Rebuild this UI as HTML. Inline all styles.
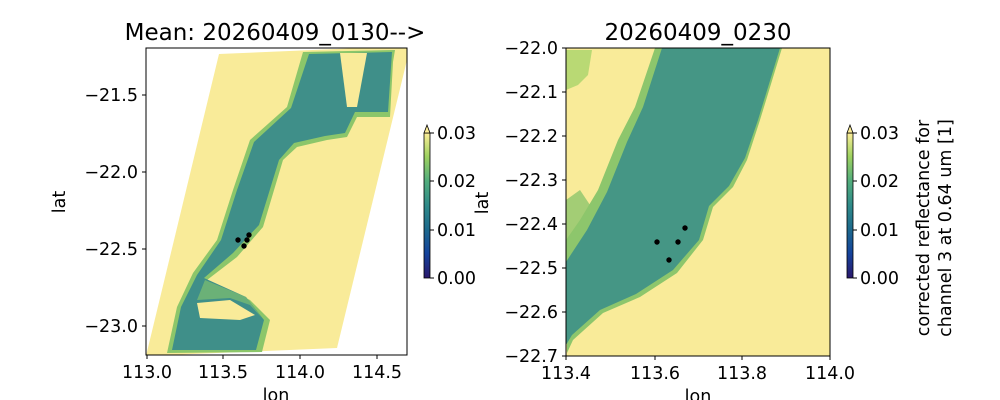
<!DOCTYPE html>
<html><head><style>body{margin:0;background:#fff}svg{display:block}text{font-family:"DejaVu Sans","Liberation Sans",sans-serif;fill:#000}</style></head>
<body>
<svg width="1000" height="400" viewBox="0 0 1000 400" xmlns="http://www.w3.org/2000/svg">
<defs>
<linearGradient id="cm" x1="0" y1="1" x2="0" y2="0">
<stop offset="0" stop-color="#2a186c"/><stop offset="0.17" stop-color="#14439c"/><stop offset="0.34" stop-color="#1d6a8c"/><stop offset="0.5" stop-color="#2f8a89"/><stop offset="0.67" stop-color="#52ad7c"/><stop offset="0.84" stop-color="#9fd260"/><stop offset="1" stop-color="#fdee99"/>
</linearGradient>
<clipPath id="c1"><rect x="146" y="48" width="261" height="307"/></clipPath>
<clipPath id="c2"><rect x="566" y="48" width="264" height="308"/></clipPath>
</defs>
<!-- left panel -->
<g clip-path="url(#c1)">
<polygon points="219,54 407,46 407,60 337,348 146,356" fill="#f9eb99"/>
<polygon points="303,52 395,50 393,62 390,117 357,117 347,137 327,140 297,147 283,160 263,227 237,257 207,280 250,300 270,320 262,352 167,353 177,307 193,273 217,240 233,190 250,140 287,107" fill="#8cc66a"/>
<polygon points="309,54 392,52 388,112 355,112 345,133 325,136 294,143 279,160 259,225 233,253 204,278 246,297 264,320 256,350 172,350 181,307 197,275 221,240 237,190 254,142 291,108" fill="#3f8f89"/>
<polygon points="340,53 367,53 357,107 347,107" fill="#f9eb99"/>
<polygon points="197,303 230,300 255,315 240,320 200,318" fill="#f9eb99"/>
<polygon points="205,280 246,297 262,318 250,305 230,298 197,300" fill="#7fbf6f" opacity="0.7"/>
</g>
<g fill="#000"><circle cx="238" cy="240" r="2.7"/><circle cx="247" cy="240" r="2.7"/><circle cx="249" cy="235" r="2.7"/><circle cx="244" cy="246" r="2.7"/></g>
<rect x="146" y="48" width="261" height="307" fill="none" stroke="#000" stroke-width="1"/>
<g stroke="#000"><line x1="147" y1="355" x2="147" y2="359"/><line x1="223" y1="355" x2="223" y2="359"/><line x1="300" y1="355" x2="300" y2="359"/><line x1="377" y1="355" x2="377" y2="359"/>
<line x1="142" y1="95" x2="146" y2="95"/><line x1="142" y1="172" x2="146" y2="172"/><line x1="142" y1="249" x2="146" y2="249"/><line x1="142" y1="326" x2="146" y2="326"/></g>
<g font-size="17.5" text-anchor="middle"><text x="147" y="378">113.0</text><text x="223" y="378">113.5</text><text x="300" y="378">114.0</text><text x="377" y="378">114.5</text><text x="276" y="401">lon</text></g>
<g font-size="17.5" text-anchor="end"><text x="138" y="101">−21.5</text><text x="138" y="178">−22.0</text><text x="138" y="255">−22.5</text><text x="138" y="332">−23.0</text></g>
<text x="65" y="202" font-size="17.5" text-anchor="middle" transform="rotate(-90 65 202)">lat</text>
<text x="275" y="40" font-size="23" text-anchor="middle">Mean: 20260409_0130--&gt;</text>
<!-- left colorbar -->
<rect x="424" y="133" width="6" height="145" fill="url(#cm)" stroke="#000" stroke-width="0.8"/>
<polygon points="424,133 427,125 430,133" fill="#fdee99" stroke="#000" stroke-width="0.8"/>
<g stroke="#000"><line x1="430" y1="133" x2="434" y2="133"/><line x1="430" y1="181" x2="434" y2="181"/><line x1="430" y1="230" x2="434" y2="230"/><line x1="430" y1="278" x2="434" y2="278"/></g>
<g font-size="17.5"><text x="437" y="139">0.03</text><text x="437" y="187">0.02</text><text x="437" y="236">0.01</text><text x="437" y="284">0.00</text></g>
<text x="488" y="203" font-size="17.5" text-anchor="middle" transform="rotate(-90 488 203)">lat</text>
<!-- right panel -->
<g clip-path="url(#c2)">
<rect x="566" y="48" width="264" height="308" fill="#f9eb99"/>
<polygon points="566,50 592,50 588,75 578,85 566,90" fill="#a9d46a" opacity="0.8"/>
<polygon points="655,48 782,48 760,120 747,160 733,187 713,207 703,240 677,273 640,297 603,313 573,340 567,353 566,240 580,220 598,190 618,140 635,107" fill="#8dc66c"/>
<polygon points="662,48 780,48 758,120 745,158 729,186 709,206 699,240 673,270 636,294 600,310 572,335 566,345 566,262 587,230 607,192 627,142 643,107" fill="#459685"/>
<polygon points="566,200 580,190 590,205 575,230 566,240" fill="#8dc66c" opacity="0.8"/>
</g>
<g fill="#000"><circle cx="657" cy="242" r="2.7"/><circle cx="678" cy="242" r="2.7"/><circle cx="685" cy="228" r="2.7"/><circle cx="669" cy="260" r="2.7"/></g>
<rect x="566" y="48" width="264" height="308" fill="none" stroke="#000" stroke-width="1"/>
<g stroke="#000"><line x1="566" y1="356" x2="566" y2="360"/><line x1="655" y1="356" x2="655" y2="360"/><line x1="742" y1="356" x2="742" y2="360"/><line x1="830" y1="356" x2="830" y2="360"/>
<line x1="562" y1="48" x2="566" y2="48"/><line x1="562" y1="92" x2="566" y2="92"/><line x1="562" y1="136" x2="566" y2="136"/><line x1="562" y1="180" x2="566" y2="180"/><line x1="562" y1="224" x2="566" y2="224"/><line x1="562" y1="268" x2="566" y2="268"/><line x1="562" y1="312" x2="566" y2="312"/><line x1="562" y1="356" x2="566" y2="356"/></g>
<g font-size="17.5" text-anchor="middle"><text x="566" y="379">113.4</text><text x="655" y="379">113.6</text><text x="742" y="379">113.8</text><text x="830" y="379">114.0</text><text x="698" y="402">lon</text></g>
<g font-size="17.5" text-anchor="end"><text x="558" y="54">−22.0</text><text x="558" y="98">−22.1</text><text x="558" y="142">−22.2</text><text x="558" y="186">−22.3</text><text x="558" y="230">−22.4</text><text x="558" y="274">−22.5</text><text x="558" y="318">−22.6</text><text x="558" y="362">−22.7</text></g>
<text x="698" y="40" font-size="23" text-anchor="middle">20260409_0230</text>
<!-- right colorbar -->
<rect x="847" y="133" width="6" height="145" fill="url(#cm)" stroke="#000" stroke-width="0.8"/>
<polygon points="847,133 850,125 853,133" fill="#fdee99" stroke="#000" stroke-width="0.8"/>
<g stroke="#000"><line x1="853" y1="133" x2="857" y2="133"/><line x1="853" y1="181" x2="857" y2="181"/><line x1="853" y1="230" x2="857" y2="230"/><line x1="853" y1="278" x2="857" y2="278"/></g>
<g font-size="17.5"><text x="860" y="139">0.03</text><text x="860" y="187">0.02</text><text x="860" y="236">0.01</text><text x="860" y="284">0.00</text></g>
<text font-size="17.5" text-anchor="middle" transform="translate(929 228) rotate(-90)">corrected reflectance for</text>
<text font-size="17.5" text-anchor="middle" transform="translate(951 228) rotate(-90)">channel 3 at 0.64 um [1]</text>
</svg>
</body></html>
